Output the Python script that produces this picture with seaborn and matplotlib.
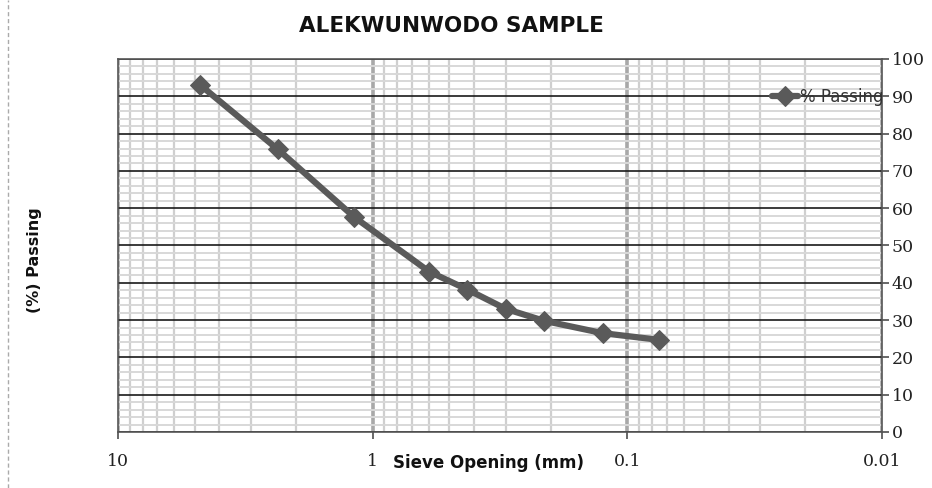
import numpy as np
import pandas as pd
import matplotlib.pyplot as plt
from matplotlib.ticker import FixedLocator, LogLocator, MultipleLocator, NullFormatter
from matplotlib.lines import Line2D
import seaborn as sns

sns.set_theme(style="white")
plt.rcParams['font.family'] = ['DejaVu Sans']

# sieve data
sieve_mm = [4.75, 2.36, 1.18, 0.60, 0.425, 0.30, 0.212, 0.125, 0.075]
passing = [93.0, 75.8, 57.6, 43.0, 38.2, 33.0, 29.8, 26.5, 24.7]
x_ticks = [10, 1, 0.1, 0.01]
x_tick_labels = ['10', '1', '0.1', '0.01']
y_ticks = [0, 10, 20, 30, 40, 50, 60, 70, 80, 90, 100]

df = pd.DataFrame({'Sieve Opening (mm)': sieve_mm, '% Passing': passing})

fig = plt.figure(figsize=(9.32, 4.88), dpi=100)
ax = fig.add_axes([118 / 932, 1 - 432 / 488, 764 / 932, 373 / 488])

ax.set_xscale('log')
ax.set_xlim(10, 0.01)
ax.set_ylim(0, 100)

# grid
ax.xaxis.set_major_locator(FixedLocator(x_ticks))
ax.xaxis.set_minor_locator(LogLocator(base=10, subs=np.arange(2, 10)))
ax.xaxis.set_minor_formatter(NullFormatter())
ax.yaxis.set_major_locator(FixedLocator(y_ticks))
ax.yaxis.set_minor_locator(MultipleLocator(2))
ax.grid(which='minor', axis='x', color='#cfcfcf', lw=1.6)
ax.grid(which='major', axis='x', color='#a8a8a8', lw=2.6)
ax.grid(which='minor', axis='y', color='#d8d8d8', lw=1.4)
ax.grid(which='major', axis='y', color='#1a1a1a', lw=1.2)
ax.set_axisbelow(True)

sns.lineplot(data=df, x='Sieve Opening (mm)', y='% Passing', ax=ax,
             color='#5a5a5a', lw=4.5, marker='D', markersize=10,
             markeredgecolor='#5a5a5a', label='% Passing')

ax.set_xticks(x_ticks)
ax.set_xticklabels(x_tick_labels)
ax.yaxis.tick_right()
ax.tick_params(axis='y', which='major', right=True, left=False, length=5,
               color='#555555', labelsize=12.5, pad=2, labelcolor='#222222')
ax.tick_params(axis='y', which='minor', right=False, left=False)
ax.tick_params(axis='x', which='major', bottom=True, length=5, color='#555555',
               labelsize=12.5, pad=10, labelcolor='#222222')
ax.tick_params(axis='x', which='minor', bottom=False)
for lab in ax.get_xticklabels() + ax.get_yticklabels():
    lab.set_family('DejaVu Serif')

for s in ax.spines.values():
    s.set_color('#555555')
    s.set_linestyle((0, (2, 1)))
    s.set_linewidth(1.2)

ax.set_xlabel('')
ax.set_ylabel('')
leg = ax.legend(loc='upper right', bbox_to_anchor=(1.013, 0.945), frameon=False,
                fontsize=12, handlelength=1.6, handletextpad=0.1, borderpad=0)
for t in leg.get_texts():
    t.set_color('#333333')

fig.text(451 / 932, 1 - 26 / 488, 'ALEKWUNWODO SAMPLE', ha='center', va='center',
         fontsize=15.5, fontweight='bold', color='#111111')
fig.text(488 / 932, 1 - 463 / 488, 'Sieve Opening (mm)', ha='center', va='center',
         fontsize=12, fontweight='bold', color='#111111')
fig.text(35 / 932, 1 - 260 / 488, '(%) Passing', ha='center', va='center',
         rotation=90, fontsize=11.5, fontweight='bold', color='#111111')

fig.add_artist(Line2D([8 / 932, 8 / 932], [0, 1], transform=fig.transFigure,
                      color='#aaaaaa', lw=1, ls=(0, (3, 2))))

fig.savefig('out.png', dpi=100)
